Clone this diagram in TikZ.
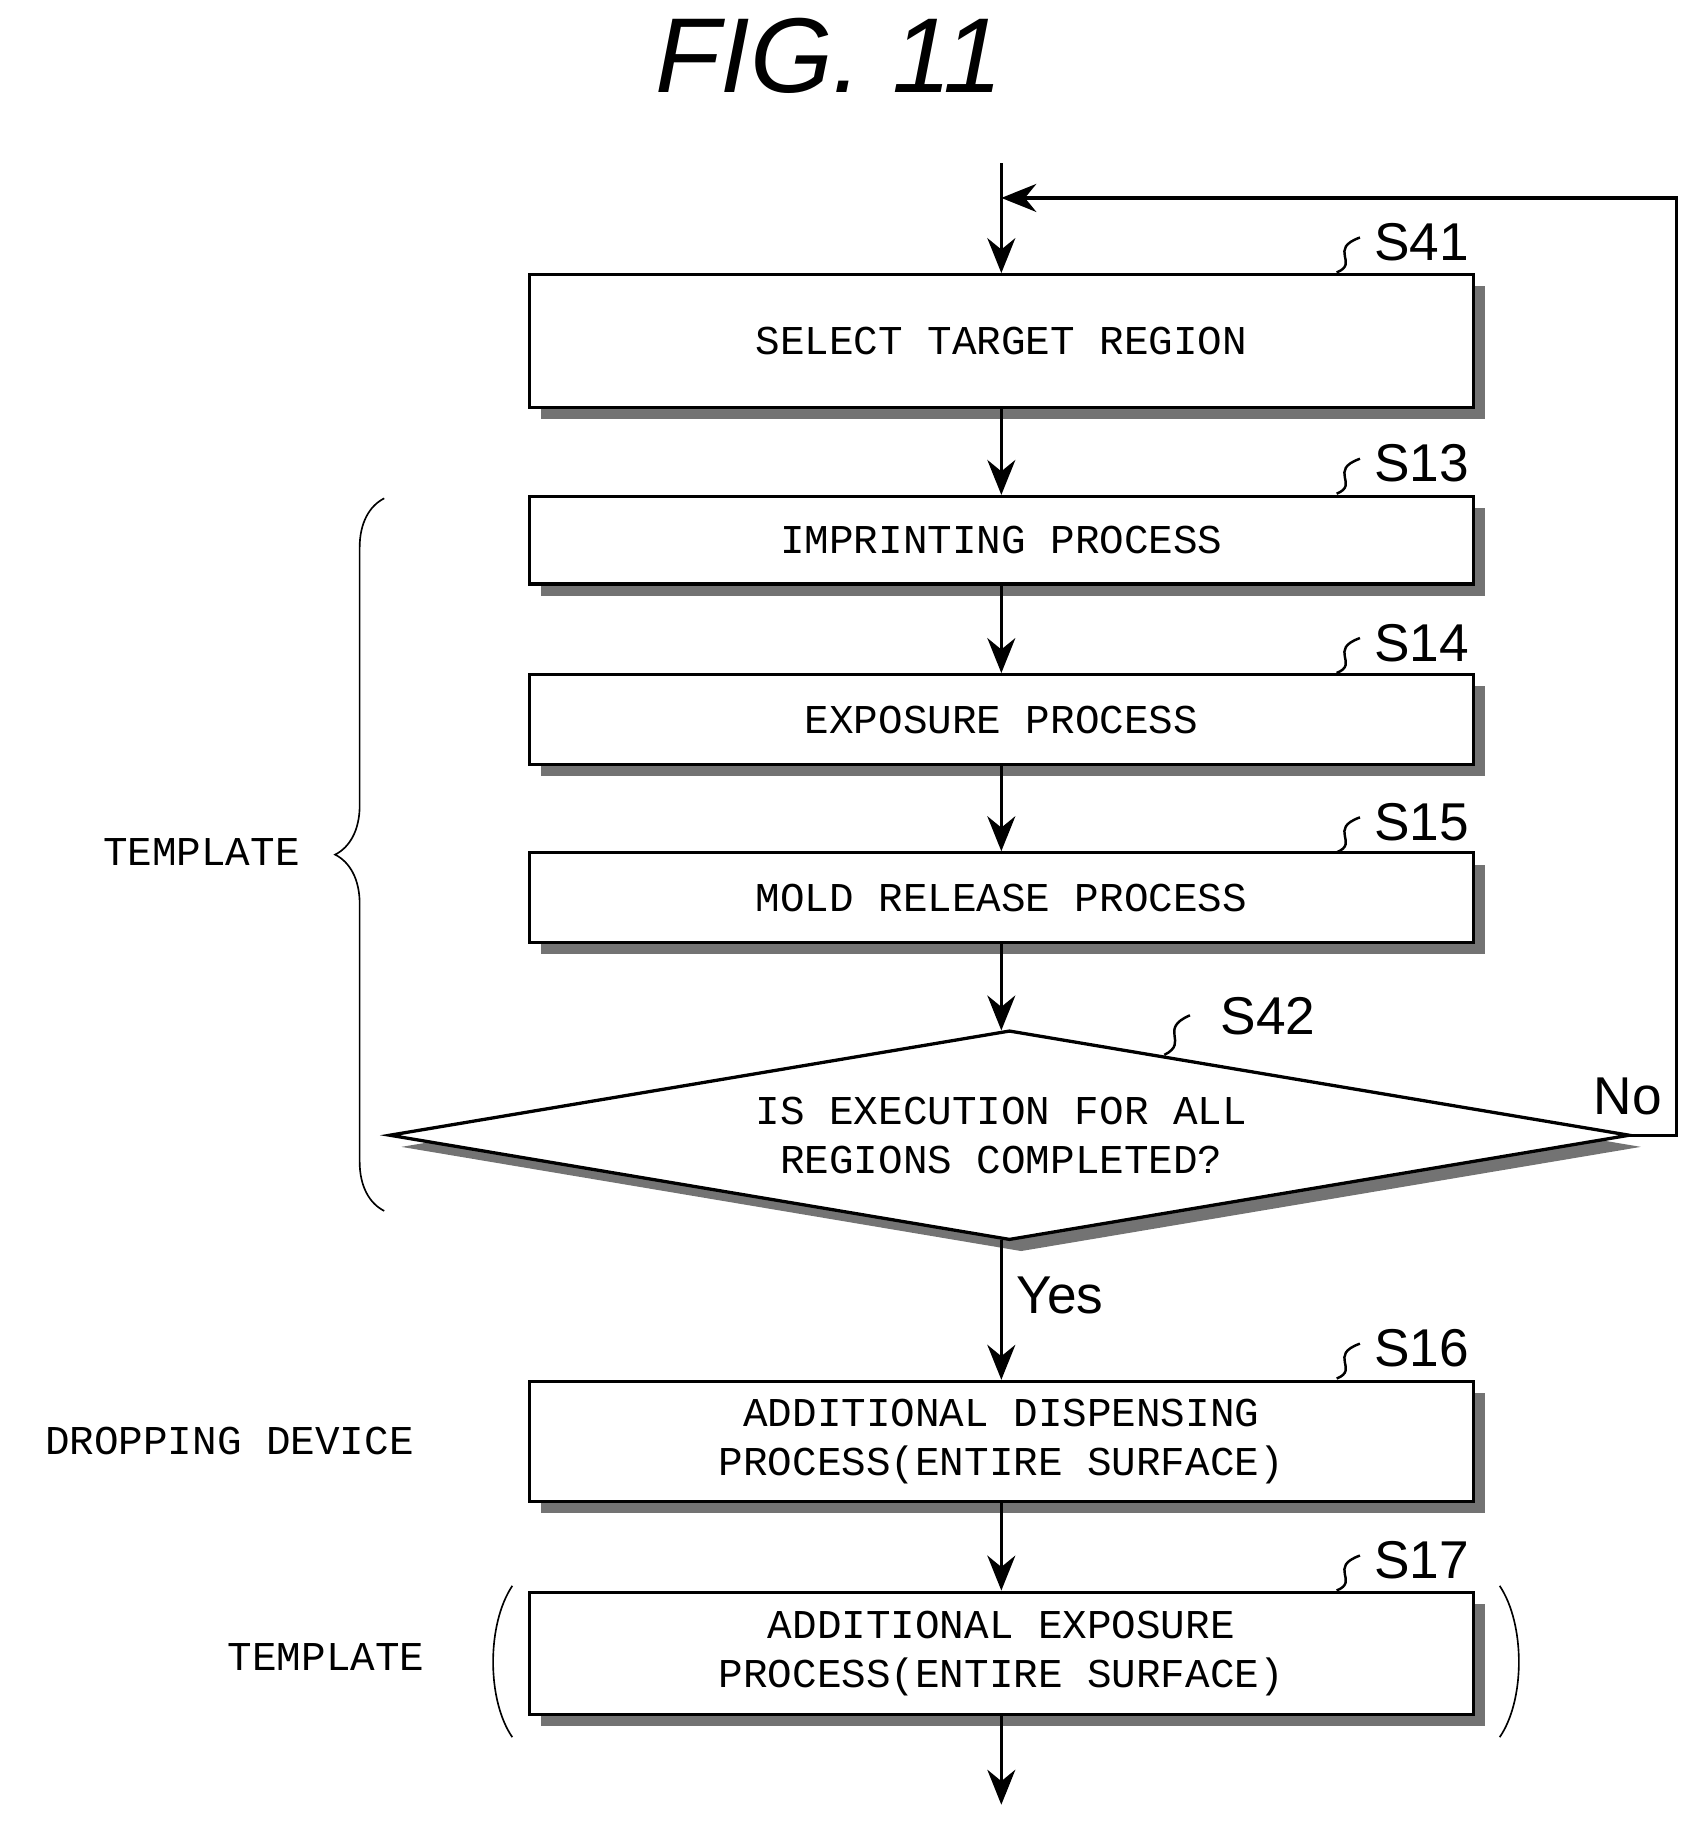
\documentclass[tikz,border=0pt]{standalone}
\usepackage{fontspec}
\setmainfont{Liberation Sans}
\newfontfamily\boxfont{Liberation Mono}
\usetikzlibrary{positioning,arrows.meta,shapes.geometric,shadows,decorations.pathreplacing}

\tikzset{
  proc/.style={draw, thick, fill=white, minimum width=8.1cm, align=center,
    font=\boxfont\fontsize{10}{12}\selectfont,
    general shadow={shadow xshift=.1cm, shadow yshift=-.1cm, fill=black!55}},
  flow/.style={thick, -{Stealth[length=3mm,width=2.4mm]}},
  tag/.style={font=\fontsize{13}{13}\selectfont},
  side/.style={font=\boxfont\fontsize{10}{12}\selectfont}
}

\begin{document}
\begin{tikzpicture}[x=0.01cm, y=-0.01cm]
    \useasboundingbox (0,0) rectangle (1460,1570);
    \node[font=\itshape\fontsize{26}{26}\selectfont] at (712,48) {FIG. 11};

    % steps
    \node[proc, minimum height=1.14cm] (s41) at (860,293) {SELECT TARGET REGION};
    \node[proc, minimum height=.75cm] (s13) at (860,464) {IMPRINTING PROCESS};
    \node[proc, minimum height=.77cm] (s14) at (860,618) {EXPOSURE PROCESS};
    \node[proc, minimum height=.77cm] (s15) at (860,771) {MOLD RELEASE PROCESS};
    \node[proc, diamond, minimum width=10.65cm, minimum height=1.8cm, inner sep=0pt] (s42) at (867,975) {};
    \node[font=\boxfont\fontsize{10}{12}\selectfont, align=center] at (860,975) {IS EXECUTION FOR ALL\\REGIONS COMPLETED?};
    \node[proc, minimum height=1.03cm] (s16) at (860,1238) {ADDITIONAL DISPENSING\\PROCESS(ENTIRE SURFACE)};
    \node[proc, minimum height=1.05cm] (s17) at (860,1420) {ADDITIONAL EXPOSURE\\PROCESS(ENTIRE SURFACE)};

    % connectors
    \coordinate (in) at (860,140);
    \coordinate (out) at (860,1550);
    \coordinate (r1) at (1440,975);
    \coordinate (r2) at (1440,170);
    \coordinate (r3) at (860,170);
    \draw[flow] (in) -- (s41);
    \draw[flow] (s41) -- (s13);
    \draw[flow] (s13) -- (s14);
    \draw[flow] (s14) -- (s15);
    \draw[flow] (s15) -- (860,885);
    \draw[flow] (860,1065) -- node[right, tag, pos=.4] {Yes} (s16);
    \draw[flow] (s16) -- (s17);
    \draw[flow] (s17) -- (out);
    \draw[flow] (1400,975) -- (r1) -- (r2) -- (r3);
    \node[tag] at (1398,942) {No};

    % step tags
    \foreach \nm/\y in {S41/208, S13/398, S14/552, S15/706, S16/1158, S17/1340} {
        \draw[semithick] (1148,\y+26) .. controls (1168,\y+18) and (1140,\y+6) .. (1168,\y-4);
        \node[tag, anchor=west] at (1168,\y) {\nm};
    }
    \draw[semithick] (1000,906) .. controls (1022,895) and (994,884) .. (1022,872);
    \node[tag, anchor=west] at (1036,873) {S42};

    % side labels
    \draw[decorate, decoration={brace, amplitude=12pt}] (330,1040) -- (330,428);
    \node[side] at (173,732) {TEMPLATE};
    \node[side] at (197,1238) {DROPPING DEVICE};
    \node[side] at (280,1423) {TEMPLATE};
    \draw (440,1362) .. controls (418,1395) and (418,1460) .. (440,1492);
    \draw (1288,1362) .. controls (1310,1395) and (1310,1460) .. (1288,1492);
\end{tikzpicture}
\end{document}
